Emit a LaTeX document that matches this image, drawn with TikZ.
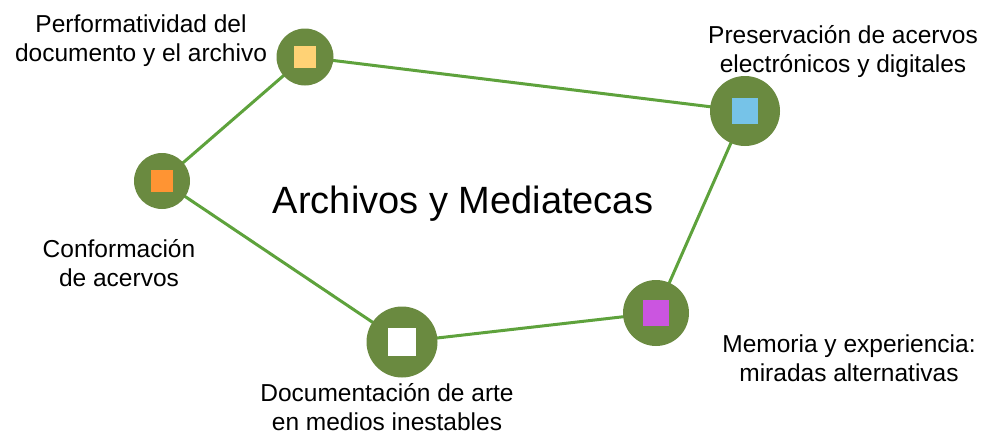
\documentclass[tikz,border=0pt]{standalone}
\usepackage{xcolor}
\usepackage{fontspec}
\setmainfont{Liberation Sans}
\usepackage{tikz}
\usetikzlibrary{backgrounds}
\definecolor{hubgreen}{HTML}{6A8A40}
\definecolor{linkgreen}{HTML}{5EA23C}
\definecolor{sqyellow}{HTML}{FFD275}
\definecolor{sqblue}{HTML}{76C3E8}
\definecolor{sqorange}{HTML}{FF9433}
\definecolor{sqmagenta}{HTML}{CB55E0}

\begin{document}
\begin{tikzpicture}[
  x=1pt, y=-1pt,
  hub/.style={circle, fill=hubgreen, inner sep=0pt, minimum size=#1},
  sq/.style={fill=#1, inner sep=0pt},
  link/.style={draw=linkgreen, line width=3pt},
  lbl/.style={align=center, font=\fontsize{24.5pt}{29pt}\selectfont}
]
\useasboundingbox (0,0) rectangle (992,434);
% hubs
\node[hub=57pt] (perf) at (305,57) {};
\node[hub=70pt] (pres) at (745,111) {};
\node[hub=56pt] (conf) at (162,181) {};
\node[hub=71pt] (docu) at (402,342) {};
\node[hub=66pt] (memo) at (656,313) {};
% squares
\node[sq=sqyellow, minimum size=22pt] (perf-sq) at (perf) {};
\node[sq=sqblue, minimum size=26pt] (pres-sq) at (pres) {};
\node[sq=sqorange, minimum size=22pt] (conf-sq) at (conf) {};
\node[sq=white, minimum size=28pt] (docu-sq) at (docu) {};
\node[sq=sqmagenta, minimum size=26pt] (memo-sq) at (memo) {};
% links
\begin{pgfonlayer}{background}
\draw[link] (perf.center) -- (pres.center);
\draw[link] (pres.center) -- (memo.center);
\draw[link] (memo.center) -- (docu.center);
\draw[link] (docu.center) -- (conf.center);
\draw[link] (conf.center) -- (perf.center);
\end{pgfonlayer}
% labels
\node[font=\fontsize{38pt}{44pt}\selectfont] (title) at (463,204) {Archivos y Mediatecas};
\node[lbl] (perf-lbl) at (141,41) {Performatividad del\\documento y el archivo};
\node[lbl] (pres-lbl) at (843,52) {Preservación de acervos\\electrónicos y digitales};
\node[lbl] (conf-lbl) at (119,263) {Conformación\\de acervos};
\node[lbl] (docu-lbl) at (387,407) {Documentación de arte\\en medios inestables};
\node[lbl] (memo-lbl) at (849,358) {Memoria y experiencia:\\miradas alternativas};
\end{tikzpicture}
\end{document}
